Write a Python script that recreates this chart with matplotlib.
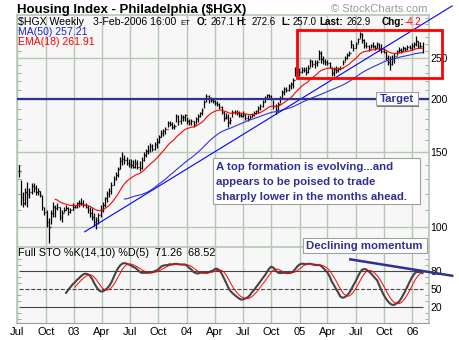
import numpy as np
import pandas as pd
import matplotlib
matplotlib.use("Agg")
import matplotlib.pyplot as plt
import matplotlib.dates as mdates
from matplotlib.patches import Rectangle
from matplotlib.ticker import FixedLocator, NullFormatter, FuncFormatter

plt.rcParams['font.family'] = ['Liberation Sans', 'DejaVu Sans']

# weekly bars, Fridays from 5-Jul-2002 to 3-Feb-2006
weeks = pd.date_range("2002-07-05", periods=188, freq="7D")

high = [140, 129, 121, 124, 128, 124, 127, 127, 126, 124, 122, 119, 112, 110, 105, 110,
        115, 113, 114, 112, 110, 112, 113, 112, 111, 114, 113, 115, 116, 117, 116, 114,
        113, 112, 111, 108, 106, 108, 113, 115, 118, 122, 124, 128, 132, 135, 139, 146,
        150, 148, 146, 145, 145, 144, 145, 144, 143, 146, 150, 153, 156, 158, 157, 159,
        162, 165, 169, 170, 172, 178, 178, 177, 175, 185, 184, 185, 184, 185, 182, 180,
        180, 178, 182, 185, 187, 191, 199, 206, 204, 202, 201, 199, 198, 196, 193, 188,
        186, 185, 182, 189, 189, 189, 188, 186, 188, 185, 184, 184, 186, 188, 189, 193,
        195, 199, 203, 206, 206, 205, 199, 195, 197, 203, 210, 213, 214, 217, 219, 224,
        238, 236, 236, 238, 238, 238, 240, 249, 247, 247, 247, 261, 259, 252, 249, 247,
        244, 236, 238, 239, 238, 239, 247, 253, 257, 260, 275, 269, 273, 278, 288, 286,
        276, 273, 268, 270, 273, 268, 273, 271, 270, 263, 259, 254, 252, 254, 256, 261,
        265, 263, 266, 265, 268, 268, 271, 273, 281, 274, 273, 272.6]
low = [131, 113, 112, 113, 112, 117, 120, 121, 119, 119, 118, 110, 107, 100, 92, 102,
       106, 106, 110, 104, 103, 109, 110, 107, 108, 110, 111, 111, 112, 113, 112, 111,
       108, 106, 104, 101, 99, 102, 106, 109, 112, 115, 118, 120, 126, 129, 131, 137,
       140, 141, 140, 139, 138, 138, 138, 137, 136, 137, 143, 146, 149, 150, 151, 152,
       154, 158, 163, 164, 166, 172, 173, 170, 170, 177, 174, 175, 178, 178, 175, 174,
       174, 172, 175, 177, 182, 184, 191, 197, 196, 197, 196, 194, 193, 190, 185, 178,
       180, 172, 175, 182, 185, 184, 182, 182, 182, 179, 178, 180, 182, 183, 185, 186,
       189, 192, 197, 200, 201, 199, 190, 185, 188, 196, 201, 205, 208, 209, 211, 212,
       226, 225, 226, 230, 231, 228, 230, 238, 238, 236, 239, 247, 243, 242, 241, 241,
       236, 227, 226, 230, 232, 234, 240, 246, 249, 252, 264, 260, 263, 271, 278, 271,
       264, 264, 259, 263, 263, 261, 264, 259, 256, 256, 247, 240, 234, 241, 243, 254,
       256, 257, 259, 259, 261, 262, 261, 263, 266, 263, 263, 257.0]
close = [136, 118, 114, 121, 120, 121, 125, 124, 121, 122, 119, 112, 109, 103, 100, 108,
         112, 111, 112, 106, 108, 110, 111, 109, 110, 112, 112, 114, 114, 114, 113, 112,
         110, 108, 106, 103, 104, 107, 110, 113, 117, 120, 122, 126, 130, 133, 137, 143,
         145, 144, 142, 141, 140, 139, 142, 139, 138, 144, 148, 151, 152, 155, 153, 157,
         159, 163, 167, 168, 170, 176, 175, 172, 173, 183, 178, 182, 182, 184, 178, 176,
         178, 174, 180, 183, 186, 189, 197, 203, 200, 199, 198, 196, 195, 192, 187, 181,
         182, 177, 179, 187, 187, 186, 184, 183, 185, 181, 180, 182, 184, 186, 188, 191,
         193, 197, 201, 204, 203, 200, 193, 189, 195, 201, 208, 211, 210, 215, 217, 222,
         234, 231, 232, 234, 234, 231, 237, 246, 242, 243, 245, 256, 248, 246, 244, 243,
         238, 230, 235, 234, 235, 236, 245, 250, 254, 256, 270, 264, 270, 276, 284, 275,
         268, 266, 262, 268, 266, 264, 270, 263, 260, 258, 250, 245, 242, 250, 253, 259,
         261, 260, 263, 262, 265, 264, 266, 270, 274, 266, 267.1, 262.9]

# hand-drawn trendlines (date, value)
trend_dates = ["2003-02-04", "2006-05-10"]
trend_prices = [97.7, 330.8]
mom_dates = ["2005-06-14", "2006-05-10"]
mom_values = [98.7, 71.8]
target_level = 200
box_dates = ["2004-12-24", "2006-04-06"]
box_prices = [224, 290]

price_ticks = [100, 150, 200, 250]
sto_ticks = [20, 50, 80]

GRID = '#b4c8b4'
NAVY = '#2e3092'

close_s = pd.Series(close, index=weeks, dtype=float)
high_s = pd.Series(high, index=weeks, dtype=float)
low_s = pd.Series(low, index=weeks, dtype=float)
open_s = close_s.shift(1)
open_s.iloc[0] = close_s.iloc[0]

ma50 = close_s.rolling(50).mean()
ema18 = pd.Series(np.nan, index=weeks)
ema18.iloc[17] = close_s.iloc[:18].mean()
k = 2 / 19
for i in range(18, len(close_s)):
    ema18.iloc[i] = close_s.iloc[i] * k + ema18.iloc[i - 1] * (1 - k)

ll = low_s.rolling(14).min()
hh = high_s.rolling(14).max()
fast_k = 100 * (close_s - ll) / (hh - ll)
full_k = fast_k.rolling(10).mean()
full_d = full_k.rolling(5).mean()

W, H = 460, 340


def px(x, y):
    return x / W, 1 - y / H


fig = plt.figure(figsize=(W / 100, H / 100), dpi=100)
ax = fig.add_axes([17 / W, 1 - 247 / H, 412 / W, 232 / H])
ax2 = fig.add_axes([17 / W, 1 - 322.5 / H, 412 / W, 75.5 / H], sharex=ax)

for a in (ax, ax2):
    a.set_facecolor('#f7f7f7')
    for side in ('left', 'top', 'right'):
        a.spines[side].set_color(GRID)
        a.spines[side].set_linewidth(1.2)
    a.spines['bottom'].set_color('#999999')
    a.spines['bottom'].set_linewidth(0.8)

# price bars
x = mdates.date2num(weeks)
half = 2.5
ax.vlines(x, low_s, high_s, color='black', lw=0.9, zorder=3)
ax.hlines(open_s, x - half, x, color='black', lw=0.9, zorder=3)
ax.hlines(close_s, x, x + half, color='black', lw=0.9, zorder=3)

ax.plot(x, ema18, color='#ff0000', lw=0.8, zorder=4)
ax.plot(x, ma50, color='#3333d6', lw=0.8, zorder=4)
ax.plot(mdates.date2num(pd.to_datetime(trend_dates)), trend_prices,
        color='#0000ff', lw=0.8, zorder=4, clip_on=False)
ax.axhline(target_level, color=NAVY, lw=1.6, zorder=4)

bx = mdates.date2num(pd.to_datetime(box_dates))
ax.add_patch(Rectangle((bx[0], box_prices[0]), bx[1] - bx[0], box_prices[1] - box_prices[0],
                       fill=False, ec='#ff0000', lw=2.0, zorder=6, clip_on=False))

ax.set_yscale('log')
ax.set_ylim(90, 315)
ax.yaxis.set_major_locator(FixedLocator(price_ticks))
ax.yaxis.set_minor_locator(FixedLocator([v for v in range(90, 320, 10) if v not in price_ticks]))
ax.yaxis.set_major_formatter(FuncFormatter(lambda v, p: f"{v:.0f}"))
ax.yaxis.set_minor_formatter(NullFormatter())
ax.yaxis.tick_right()
ax.tick_params(axis='y', which='both', direction='in', left=True, right=True,
               length=3, color='#999999', labelsize=7.5, pad=1)
ax.tick_params(axis='y', which='major', length=0)
ax.grid(True, axis='y', which='major', color=GRID, lw=1)

# stochastics panel
ax2.plot(x, full_k, color='#444444', lw=1.5, zorder=4)
ax2.plot(x, full_d, color='#ff0000', lw=0.7, zorder=5)
for lvl, ls in ((80, '-'), (50, '--'), (20, '-')):
    ax2.hlines(lvl, x[0], x[-1], color='#444444', lw=0.8, ls=ls, zorder=3)
ax2.plot(mdates.date2num(pd.to_datetime(mom_dates)), mom_values,
         color=NAVY, lw=1.8, zorder=6, clip_on=False)
ax2.set_ylim(-5, 119)
ax2.yaxis.set_major_locator(FixedLocator(sto_ticks))
ax2.yaxis.set_minor_locator(FixedLocator([v for v in range(0, 120, 10) if v not in sto_ticks]))
ax2.yaxis.set_minor_formatter(NullFormatter())
ax2.yaxis.tick_right()
ax2.tick_params(axis='y', which='both', direction='in', left=True, right=True,
                length=3, color='#999999', labelsize=7.5, pad=1)
ax2.tick_params(axis='y', which='major', length=0)

quarters = pd.date_range("2002-07-01", "2006-01-01", freq="QS")
qlabels = [f"{d.year % 100:02d}" if d.month == 1 else d.strftime("%b") for d in quarters]
ax2.set_xticks(mdates.date2num(quarters))
ax2.set_xticklabels(qlabels)
ax2.tick_params(axis='x', length=0, labelsize=8, pad=3)
ax.tick_params(axis='x', length=0, labelbottom=False)
ax.set_xlim(mdates.date2num(pd.Timestamp("2002-06-30")), mdates.date2num(pd.Timestamp("2006-02-24")))
for a in (ax, ax2):
    a.grid(True, axis='x', color=GRID, lw=1)
    a.set_axisbelow(True)

# header
fig.text(*px(17, 12.5), "Housing Index - Philadelphia ($HGX)", fontsize=9.5,
         fontweight='bold', va='baseline')
fig.text(*px(427, 12.5), "\u00a9 StockCharts.com", fontsize=8, color='#999999',
         ha='right', va='baseline')

fs = 7.6
vs = 6.9
hdr = [
    (18, "$HGX Weekly", {}),
    (92.7, "3-Feb-2006 16:00", {}),
    (180.5, "ET", dict(fontsize=5.5)),
    (196.7, "O:", dict(fontweight='bold', fontsize=7.2)),
    (210.5, "267.1", dict(fontsize=vs)),
    (236.2, "H:", dict(fontweight='bold', fontsize=7.2)),
    (251.5, "272.6", dict(fontsize=vs)),
    (281, "L:", dict(fontweight='bold', fontsize=7.2)),
    (292.5, "257.0", dict(fontsize=vs)),
    (319, "Last:", dict(fontweight='bold', fontsize=7.2)),
    (346.5, "262.9", dict(fontsize=vs)),
    (381.7, "Chg:", dict(fontweight='bold', fontsize=7.2)),
    (405, "-4.2", dict(color='#ff0000', fontsize=vs)),
]
for hx, s, kw in hdr:
    opts = dict(fontsize=fs, va='baseline')
    opts.update(kw)
    fig.text(*px(hx, 25), s, **opts)

fig.text(*px(18, 35), "MA(50) 257.21", fontsize=fs, color='#2222cc', va='baseline')
fig.text(*px(18, 45), "EMA(18) 261.91", fontsize=fs, color='#ff0000', va='baseline')
fig.text(*px(18, 256.5), "Full STO %K(14,10) %D(5)  71.26  68.52", fontsize=7.8, va='baseline')


def note_box(x0, y0, x1, y1):
    fig.patches.append(Rectangle(px(x0 + 1.5, y1 + 1.5), (x1 - x0) / W, (y1 - y0) / H,
                                 transform=fig.transFigure, fc='#777777', ec='none', zorder=7))
    fig.patches.append(Rectangle(px(x0, y1), (x1 - x0) / W, (y1 - y0) / H,
                                 transform=fig.transFigure, fc='white', ec='#a0a0a0',
                                 lw=0.8, zorder=8))


note_box(375.7, 91.7, 417.7, 105)
fig.text(*px(396.7, 98.6), "Target", fontsize=8.2, fontweight='bold', color=NAVY,
         ha='center', va='center', zorder=9)

note_box(213, 158, 420, 203.5)
lines = ["A top formation is evolving...and",
         "appears to be poised to trade",
         "sharply lower in the months ahead."]
for j, s in enumerate(lines):
    fig.text(*px(216, 170.5 + 14.7 * j), s, fontsize=8.2, fontweight='bold', color=NAVY,
             va='baseline', zorder=9)

note_box(302.7, 238.3, 426.7, 252.7)
fig.text(*px(364.7, 245.6), "Declining momentum", fontsize=8.2, fontweight='bold',
         color=NAVY, ha='center', va='center', zorder=9)

fig.savefig("out.png", dpi=100)
